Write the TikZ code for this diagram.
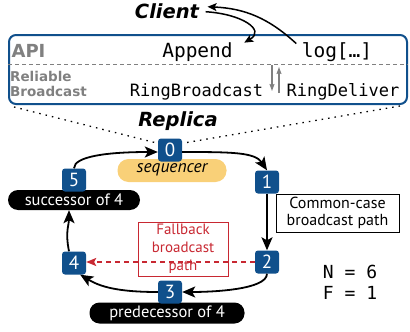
\documentclass[tikz,border=0pt]{standalone}
\usepackage{fontspec}
\setmainfont{PT Sans}
\setmonofont{DejaVu Sans Mono}
\newfontfamily\boldsans{DejaVu Sans}
\usetikzlibrary{arrows.meta}
\definecolor{nblue}{RGB}{16,80,140}
\definecolor{seqor}{RGB}{249,208,120}
\definecolor{fred}{RGB}{200,40,50}
\definecolor{tgray}{RGB}{128,128,128}
\begin{document}
\begin{tikzpicture}[x=1pt,y=1pt,
  num/.style={fill=nblue, text=white, rounded corners=3pt, minimum width=24pt, minimum height=23pt, inner sep=0pt, font=\fontsize{19}{19}\selectfont},
  pill/.style={fill=black, text=white, rounded corners=10pt, inner sep=0pt, minimum height=20pt, font=\fontsize{16.5}{16.5}\selectfont},
  arr/.style={line width=1.8pt, -{Stealth[length=13pt,width=11pt,inset=3pt]}},
  carr/.style={line width=1.5pt, -{Stealth[length=9pt,width=8pt,inset=2pt]}},
  garr/.style={line width=1.2pt, draw=tgray, -{Stealth[length=7pt,width=5pt,inset=1pt]}},
  dotl/.style={line width=1.3pt, dash pattern=on 1.5pt off 5pt},
  monoA/.style={font=\ttfamily\fontsize{19.5}{20}\selectfont, anchor=base},
  monoB/.style={font=\ttfamily\fontsize{17}{18}\selectfont, anchor=base},
  ttl/.style={font=\boldsans\bfseries\itshape\fontsize{19.5}{20}\selectfont, anchor=base}]
\useasboundingbox (0,0) rectangle (410,-332);
% top box
\node[draw=nblue, line width=2pt, rounded corners=7pt, minimum width=398pt, minimum height=69pt, inner sep=0pt] (api) at (208,-69.5) {};
\draw[tgray, line width=1pt, dash pattern=on 4pt off 3pt] ([yshift=5.5pt]api.west) -- ([yshift=5.5pt]api.east);
\node[anchor=base, font=\boldsans\bfseries\fontsize{18}{18}\selectfont, text=tgray] (apilbl) at (28.5,-57) {API};
\node[anchor=west, align=left, font=\boldsans\bfseries\fontsize{13.5}{15.5}\selectfont, text=tgray, inner sep=0pt] (rb) at (10,-84) {Reliable\\Broadcast};
\node[monoA] (append) at (197.5,-57) {Append};
\node[monoA] (log) at (337,-57) {log[…]};
\node[monoB] (ringb) at (196.5,-96.5) {RingBroadcast};
\node[monoB] (ringd) at (343,-96.5) {RingDeliver};
\coordinate (d1) at (272,-65);
\coordinate (d2) at (272,-91);
\coordinate (u1) at (279,-93);
\coordinate (u2) at (279,-67);
\draw[garr] (d1) -- (d2);
\draw[garr] (u1) -- (u2);
% titles
\node[ttl] (client) at (167,-19) {Client};
\node[ttl] (replica) at (178,-126.5) {Replica};
\draw[carr] ([xshift=-2pt,yshift=-5pt]log.north west) to[bend right=20] ([xshift=5pt,yshift=5pt]client.east);
\draw[carr] ([xshift=3pt]client.east) .. controls (242,-14) and (266,-30) .. ([xshift=8pt,yshift=-4pt]append.north east);
% ring
\node[fill=seqor, rounded corners=11pt, minimum width=109pt, minimum height=23pt, inner sep=0pt, text height=8pt, text depth=3.5pt, font=\itshape\fontsize{17.5}{17.5}\selectfont] (seq) at (172,-170.5) {sequencer};
\node[num] (n0) at (170,-150) {0};
\node[num] (n1) at (267,-182) {1};
\node[num] (n2) at (267,-262) {2};
\node[pill, minimum width=132pt] (succ) at (74,-200) {successor of 4};
\node[num] (n5) at (74,-180) {5};
\node[pill, minimum width=155pt, minimum height=21pt] (pred) at (167,-313) {predecessor of 4};
\node[num] (n3) at (170,-292) {3};
\node[num] (n4) at (74,-263) {4};
\draw[dotl] ([xshift=6pt,yshift=-2pt]api.south west) -- ([yshift=-5pt]n0.north west);
\draw[dotl] ([xshift=-8pt,yshift=-1pt]api.south east) -- ([yshift=-5pt]n0.north east);
\node[draw, line width=0.8pt, minimum width=123pt, minimum height=38pt, inner sep=0pt, align=center, font=\fontsize{16}{17}\selectfont] (cc) at (337.5,-213) {Common-case\\broadcast path};
\node[draw=fred, text=fred, line width=0.8pt, minimum width=90pt, minimum height=54pt, inner sep=0pt, align=center, font=\fontsize{15}{18}\selectfont] (fb) at (183,-249) {Fallback\\broadcast\\path};
\node[align=center, font=\ttfamily\fontsize{18}{21}\selectfont] (nf) at (350,-282) {N = 6\\F = 1};
\draw[arr] (n5.north) .. controls +(0,12) and +(-50,0) .. ([yshift=-2pt]n0.west);
\draw[arr] ([yshift=-2pt]n0.east) .. controls +(50,0) and +(-12,18) .. (n1.north);
\draw[arr] (n1.south) -- (n2.north);
\draw[arr] (n2.south) .. controls +(0,-16) and +(30,0) .. (n3.east);
\draw[arr] (n3.west) .. controls +(-40,0) and +(20,-12) .. ([xshift=-6pt]n4.south east);
\draw[arr] ([xshift=-5pt]n4.north) .. controls +(-4,20) and +(0,-15) .. ([xshift=-5pt]succ.south);
\draw[fred, line width=1.3pt, dash pattern=on 5pt off 4pt, -{Stealth[length=10pt,width=8pt,inset=2pt]}] (n2.west) -- (n4.east |- n2.west);
\end{tikzpicture}
\end{document}
